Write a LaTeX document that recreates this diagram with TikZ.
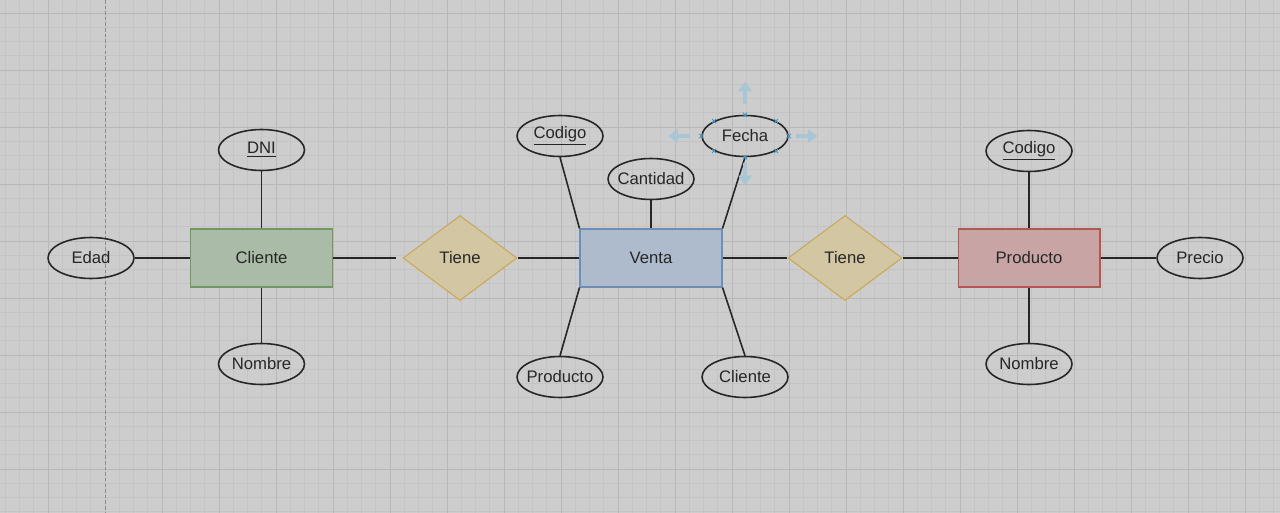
\documentclass[tikz,border=0pt]{standalone}
\usepackage{fontspec}
\setmainfont{Liberation Sans}
\usetikzlibrary{shapes.geometric,arrows.meta}

\definecolor{bgGray}{RGB}{205,205,205}
\definecolor{minorLine}{RGB}{196,196,196}
\definecolor{majorLine}{RGB}{184,184,184}
\definecolor{clienteFill}{RGB}{170,187,167}
\definecolor{clienteLine}{RGB}{110,155,92}
\definecolor{ventaFill}{RGB}{174,187,205}
\definecolor{ventaLine}{RGB}{108,142,191}
\definecolor{productoFill}{RGB}{200,165,164}
\definecolor{productoLine}{RGB}{184,84,80}
\definecolor{relFill}{RGB}{211,198,162}
\definecolor{relLine}{RGB}{200,168,90}
\definecolor{handleBlue}{RGB}{168,198,214}
\definecolor{markBlue}{RGB}{70,150,200}

\newcommand{\erfont}{\fontsize{9.5}{11}\selectfont\color{black!85}}

\begin{document}
\begin{tikzpicture}[x=0.02cm, y=-0.02cm,
  entity/.style={draw, line width=0.6pt, minimum width=2.84cm, minimum height=1.16cm, inner sep=0pt, font=\erfont},
  attr/.style={ellipse, draw=black!85, line width=0.9pt, minimum width=1.72cm, minimum height=0.82cm, inner xsep=-3pt, inner ysep=0pt, font=\erfont},
  rel/.style={diamond, draw=relLine, fill=relFill, line width=0.6pt, minimum width=2.28cm, minimum height=1.7cm, inner sep=0pt, font=\erfont},
  link/.style={draw=black!85, line width=0.9pt},
  handle/.style={draw=handleBlue, line width=2pt, -{Triangle[width=7.4pt,length=5.5pt]}},
]
\useasboundingbox (0,0) rectangle (1280,513);
\fill[bgGray] (0,0) rectangle (1280,513);

% grid
\foreach \i in {0,...,89}
  \draw[minorLine, line width=0.4pt] ({5.25+14.25*\i},0) -- ++(0,513);
\foreach \j in {0,...,35}
  \draw[minorLine, line width=0.4pt] (0,{13+14.25*\j}) -- ++(1280,0);
\foreach \i in {0,2,3,...,21}
  \draw[majorLine, line width=0.5pt] ({48+57*\i},0) -- ++(0,513);
\foreach \j in {0,...,8}
  \draw[majorLine, line width=0.5pt] (0,{13+57*\j}) -- ++(1280,0);
\draw[black!45, line width=0.5pt, dash pattern=on 2pt off 1.2pt] (105,0) -- (105,513);

% entities and relations
\node[entity, draw=clienteLine, fill=clienteFill] (cliente) at (261.5,258) {Cliente};
\node[rel] (tiene1) at (460,258) {Tiene};
\node[entity, draw=ventaLine, fill=ventaFill] (venta) at (651,258) {Venta};
\node[rel] (tiene2) at (845,258) {Tiene};
\node[entity, draw=productoLine, fill=productoFill] (producto) at (1029,258) {Producto};

% attributes
\node[attr] (edad) at (91,258) {Edad};
\node[attr] (dni) at (261.5,150) {\underline{DNI}};
\node[attr] (nombreC) at (261.5,364) {Nombre};
\node[attr] (codigoV) at (560,136) {\underline{Codigo}};
\node[attr] (cantidad) at (651,179) {Cantidad};
\node[attr] (fecha) at (745,136) {Fecha};
\node[attr] (productoV) at (560,377) {Producto};
\node[attr] (clienteV) at (745,377) {Cliente};
\node[attr] (codigoP) at (1029,151) {\underline{Codigo}};
\node[attr] (nombreP) at (1029,364) {Nombre};
\node[attr] (precio) at (1200,258) {Precio};

% connectors
\draw[link] (edad) -- (cliente);
\draw[link] (dni) -- (cliente);
\draw[link] (nombreC) -- (cliente);
\draw[link, shorten >=0.12cm] (cliente) -- (tiene1);
\draw[link] (tiene1) -- (venta);
\draw[link] (codigoV.south) -- (venta.north west);
\draw[link] (cantidad) -- (venta);
\draw[link] (fecha.south) -- (venta.north east);
\draw[link] (productoV.north) -- (venta.south west);
\draw[link] (clienteV.north) -- (venta.south east);
\draw[link] (venta) -- (tiene2);
\draw[link] (tiene2) -- (producto);
\draw[link] (codigoP) -- (producto);
\draw[link] (nombreP) -- (producto);
\draw[link] (producto) -- (precio);

% selection handles on Fecha
\draw[handle] ([shift={(0,-11)}]fecha.north) -- ++(0,-22);
\draw[handle] ([shift={(0,6)}]fecha.south) -- ++(0,22);
\draw[handle] ([shift={(-11,0)}]fecha.west) -- ++(-22,0);
\draw[handle] ([shift={(7,0)}]fecha.east) -- ++(22,0);
\foreach \a in {north,north east,east,south east,south,south west,west,north west}
  \draw[markBlue, line width=0.5pt] ([shift={(-2,-2)}]fecha.\a) -- ++(4,4)
                                    ([shift={(-2,2)}]fecha.\a) -- ++(4,-4);

\end{tikzpicture}
\end{document}
